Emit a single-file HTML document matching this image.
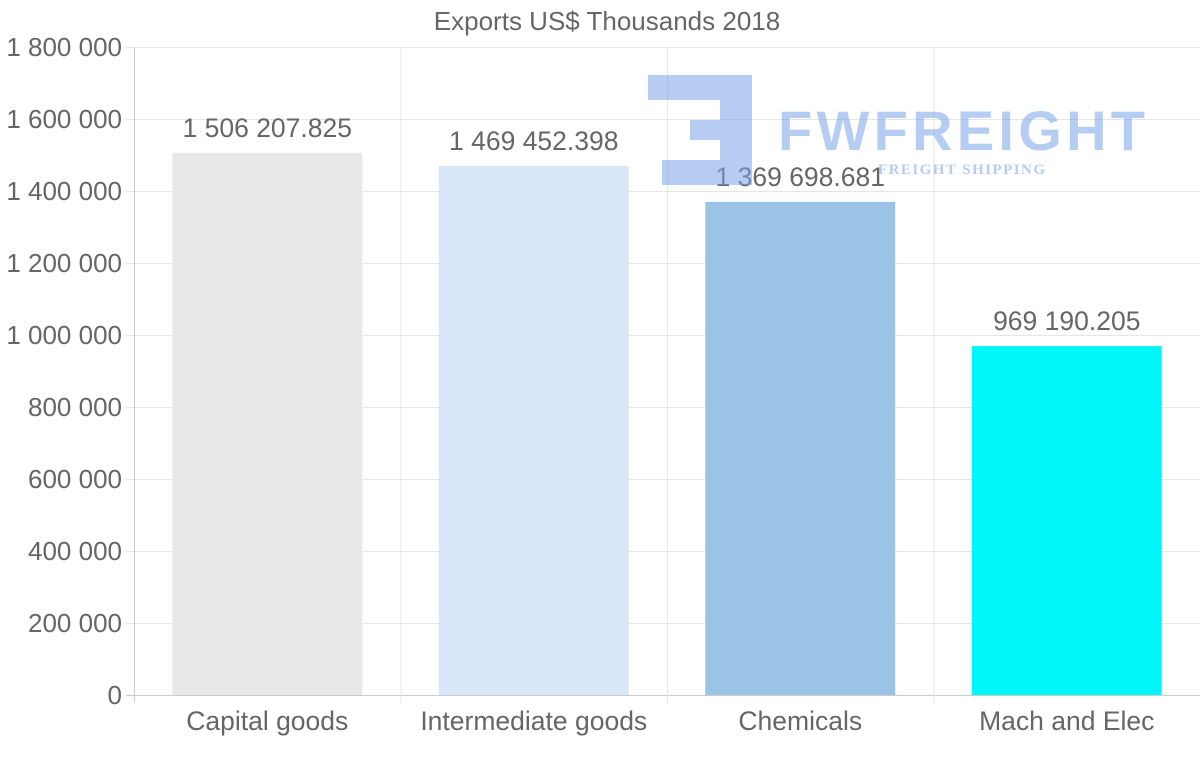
<!DOCTYPE html>
<html><head><meta charset="utf-8"><style>
body{margin:0;background:#fff;}
svg text{font-family:"Liberation Sans",Arial,sans-serif;fill:#666;}
</style></head><body>
<svg width="1200" height="763">
<g id="grid"></g>
<g id="bars"></g>
<g id="labels"></g>
<g opacity="0.55">
<path d="M648 75 H752 V185 H662 V160 H720 V140 H690 V120 H720 V100 H648 Z" fill="#7aa3ea"/>
<text x="778" y="150" style="font-size:56px;font-weight:bold;fill:#7aa3ea" textLength="367">FWFREIGHT</text>
<text x="878" y="174" style="font-family:'Liberation Serif',serif;font-size:15px;font-weight:bold;fill:#7aa3ea" textLength="167">FREIGHT SHIPPING</text>
</g>
<text x="607" y="30" text-anchor="middle" style="font-size:26px">Exports US$ Thousands 2018</text>
</svg>
<script>
const categories=["Capital goods","Intermediate goods","Chemicals","Mach and Elec"];
const values=[1506207.825,1469452.398,1369698.681,969190.205];
const valueLabels=["1 506 207.825","1 469 452.398","1 369 698.681","969 190.205"];
const colors=["#e8e8e8","#d7e7f8","#9ac3e6","#00f7f9"];
const ticks=[0,200000,400000,600000,800000,1000000,1200000,1400000,1600000,1800000];
const tickLabels=["0","200 000","400 000","600 000","800 000","1 000 000","1 200 000","1 400 000","1 600 000","1 800 000"];
const NS="http://www.w3.org/2000/svg";
const x0=134,x1=1200,yb=695,yt=47,maxV=1800000;
const y=v=>yb-(v/maxV)*(yb-yt);
const band=(x1-x0)/categories.length;
const xc=i=>x0+band*(i+0.5);
function mk(tag,attrs,parent){const e=document.createElementNS(NS,tag);for(const k in attrs)e.setAttribute(k,attrs[k]);parent.appendChild(e);return e;}
const grid=document.getElementById('grid'),bars=document.getElementById('bars'),labels=document.getElementById('labels');
ticks.forEach((t,i)=>{
 const l=mk('line',{x1:x0-8,x2:x1,y1:y(t)+0.5,y2:y(t)+0.5,stroke:i==0?'#ccc':'#e6e6e6'},grid);
 
 
 const tx=mk('text',{x:122,y:y(t)+9,'text-anchor':'end',style:'font-size:26px'},grid);
 tx.textContent=tickLabels[i];
 
 
});
for(let i=0;i<=categories.length;i++){
 const l=mk('line',{x1:x0+band*i+0.5,x2:x0+band*i+0.5,y1:yt,y2:yb+8,stroke:i==0?'#ccc':'#e6e6e6'},grid);
 
 
}
categories.forEach((c,i)=>{
 const w=190;
 const r=mk('rect',{x:xc(i)-w/2,y:y(values[i]),width:w,height:yb-y(values[i]),fill:colors[i]},bars);
 
 
 const v=mk('text',{x:xc(i),y:y(values[i])-16,'text-anchor':'middle',style:'font-size:26.5px'},labels);
 v.textContent=valueLabels[i];
 
 
 const t=mk('text',{x:xc(i),y:730,'text-anchor':'middle',style:'font-size:26.5px'},labels);
 t.textContent=c;
 
 
});
</script>
</body></html>
